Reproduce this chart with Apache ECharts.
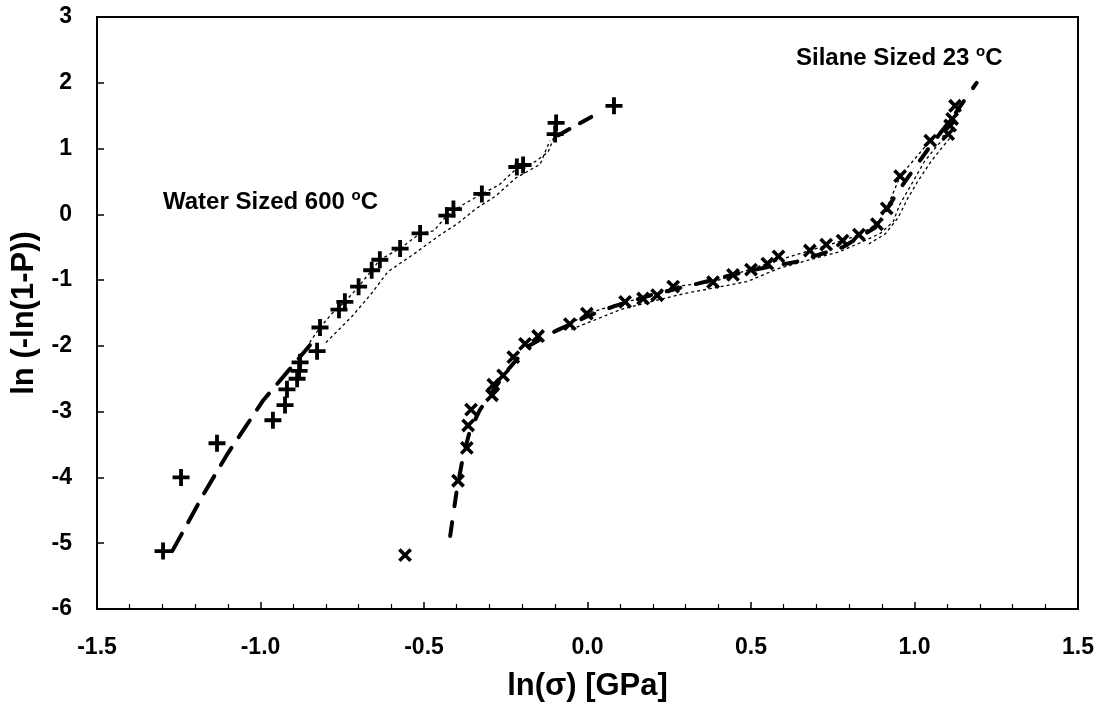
<!DOCTYPE html>
<html>
<head>
<meta charset="utf-8">
<script src="https://cdn.jsdelivr.net/npm/echarts@6/dist/echarts.min.js"></script>
<style>
  html, body { margin: 0; padding: 0; background: #fff; }
  #chart { width: 1106px; height: 708px; }
</style>
</head>
<body>
<div id="chart"></div>
<script>
// Water Sized 600 C  (+ markers)
const waterPoints = [
  [-1.298, -5.12], [-1.243, -4.00], [-1.133, -3.48], [-0.962, -3.13], [-0.925, -2.90],
  [-0.919, -2.66], [-0.888, -2.50], [-0.882, -2.38], [-0.879, -2.25], [-0.827, -2.08],
  [-0.818, -1.72], [-0.760, -1.45], [-0.742, -1.33], [-0.700, -1.10], [-0.660, -0.85],
  [-0.635, -0.69], [-0.573, -0.52], [-0.512, -0.29], [-0.430, -0.02], [-0.410, 0.08],
  [-0.323, 0.31], [-0.216, 0.72], [-0.197, 0.75], [-0.099, 1.22], [-0.096, 1.39],
  [0.081, 1.65]
];
const waterFitLow = [
  [-1.270, -5.12], [-1.222, -4.69], [-1.176, -4.27], [-1.102, -3.65], [-1.047, -3.24],
  [-0.992, -2.83], [-0.910, -2.35], [-0.849, -1.99]
];
const waterFitTop = [[-0.090, 1.20], [0.040, 1.56]];
const waterUpper = [
  [-0.850, -1.95], [-0.818, -1.72], [-0.780, -1.50], [-0.742, -1.33], [-0.700, -1.10],
  [-0.660, -0.85], [-0.635, -0.69], [-0.573, -0.52], [-0.512, -0.29], [-0.470, -0.25],
  [-0.430, -0.02], [-0.380, 0.15], [-0.323, 0.31], [-0.270, 0.45], [-0.216, 0.70],
  [-0.160, 0.80], [-0.120, 0.95], [-0.099, 1.22]
];
const waterLower = [
  [-0.800, -1.95], [-0.720, -1.55], [-0.660, -1.20], [-0.610, -0.87], [-0.530, -0.60],
  [-0.450, -0.31], [-0.400, -0.15], [-0.340, 0.09], [-0.280, 0.28], [-0.220, 0.55],
  [-0.145, 0.76], [-0.115, 1.12]
];

// Silane Sized 23 C  (x markers)
const silanePoints = [
  [-0.558, -5.18], [-0.396, -4.05], [-0.369, -3.55], [-0.365, -3.21], [-0.356, -2.97],
  [-0.292, -2.75], [-0.288, -2.59], [-0.258, -2.45], [-0.227, -2.17], [-0.191, -1.97],
  [-0.151, -1.85], [-0.054, -1.67], [-0.002, -1.51], [0.115, -1.33], [0.170, -1.28],
  [0.213, -1.23], [0.262, -1.10], [0.384, -1.03], [0.445, -0.92], [0.500, -0.84],
  [0.550, -0.75], [0.584, -0.64], [0.680, -0.55], [0.730, -0.46], [0.780, -0.40],
  [0.830, -0.31], [0.885, -0.15], [0.915, 0.09], [0.956, 0.58], [1.048, 1.12],
  [1.103, 1.22], [1.109, 1.35], [1.115, 1.45], [1.124, 1.65]
];
const silaneFit = [
  [-0.420, -4.89], [-0.400, -4.20], [-0.380, -3.67], [-0.360, -3.30], [-0.330, -2.98],
  [-0.250, -2.40], [-0.180, -2.00], [-0.100, -1.78], [0.000, -1.55], [0.080, -1.40],
  [0.200, -1.22], [0.340, -1.05], [0.500, -0.85], [0.640, -0.72], [0.780, -0.50],
  [0.880, -0.20], [0.950, 0.35], [1.050, 1.05], [1.120, 1.50], [1.190, 2.00]
];
const silaneUpper = [
  [-0.054, -1.67], [-0.002, -1.51], [0.115, -1.33], [0.213, -1.23], [0.262, -1.10],
  [0.384, -1.03], [0.445, -0.92], [0.550, -0.75], [0.680, -0.55], [0.780, -0.40],
  [0.830, -0.31], [0.885, -0.15], [0.915, 0.09], [0.956, 0.58], [1.048, 1.12], [1.103, 1.22]
];
const silaneLower = [
  [-0.050, -1.75], [0.100, -1.45], [0.200, -1.32], [0.300, -1.20], [0.376, -1.13],
  [0.490, -1.02], [0.580, -0.83], [0.680, -0.69], [0.770, -0.57], [0.830, -0.44],
  [0.895, -0.29], [0.935, -0.11], [0.955, 0.15], [0.990, 0.45], [1.030, 0.80],
  [1.070, 1.05], [1.100, 1.20]
];
const silaneLower2 = [
  [0.860, -0.45], [0.910, -0.30], [0.950, -0.05], [0.980, 0.25], [1.010, 0.50],
  [1.050, 0.80], [1.090, 1.05], [1.115, 1.20]
];

const xTicks = [-1.5, 1.5, 0.5];   // min, max, interval
const yTicks = [-6, 3, 1];

const FONT = '"Liberation Sans", Arial, sans-serif';
const PLUS = 'path://M0,6.2H16V9.8H0Z M6.2,0H9.8V16H6.2Z';

const thinLine = (data) => ({
  type: 'line', data, symbol: 'none', silent: true,
  lineStyle: { color: '#000', width: 1.3, type: [3, 3] }
});

const labelRich = {
  n: { fontSize: 24, fontWeight: 'bold', fontFamily: FONT, color: '#000', lineHeight: 28 },
  s: { fontSize: 15, fontWeight: 'bold', fontFamily: FONT, color: '#000', lineHeight: 15, verticalAlign: 'top' }
};

const chart = echarts.init(document.getElementById('chart'));
chart.setOption({
  animation: false,
  backgroundColor: '#fff',
  grid: {
    left: 97, right: 28, top: 17, bottom: 99,
    show: true, borderColor: '#000', borderWidth: 2
  },
  xAxis: {
    type: 'value', min: xTicks[0], max: xTicks[1], interval: xTicks[2],
    name: 'ln(σ) [GPa]', nameLocation: 'middle', nameGap: 62,
    nameTextStyle: { fontFamily: FONT, fontWeight: 'bold', fontSize: 31, color: '#000' },
    axisLine: { onZero: false, lineStyle: { color: '#000', width: 2 } },
    axisTick: { inside: true, length: 7, lineStyle: { color: '#000', width: 1.5 } },
    minorTick: { show: true, splitNumber: 5, length: 5, lineStyle: { color: '#000', width: 1.2 } },
    splitLine: { show: false },
    axisLabel: {
      margin: 27, fontFamily: FONT, fontWeight: 'bold', fontSize: 23, color: '#000',
      formatter: (v) => v.toFixed(1)
    }
  },
  yAxis: {
    type: 'value', min: yTicks[0], max: yTicks[1], interval: yTicks[2],
    name: 'ln (-ln(1-P))', nameLocation: 'middle', nameGap: 57,
    nameTextStyle: { fontFamily: FONT, fontWeight: 'bold', fontSize: 31, color: '#000' },
    axisLine: { onZero: false, lineStyle: { color: '#000', width: 2 } },
    axisTick: { inside: true, length: 7, lineStyle: { color: '#000', width: 1.5 } },
    splitLine: { show: false },
    axisLabel: { margin: 25, fontFamily: FONT, fontWeight: 'bold', fontSize: 23, color: '#000' }
  },
  graphic: [
    {
      type: 'text', left: 163, top: 188,
      style: { text: '{n|Water Sized 600 }{s|o}{n|C}', rich: labelRich }
    },
    {
      type: 'text', left: 796, top: 44,
      style: { text: '{n|Silane Sized 23 }{s|o}{n|C}', rich: labelRich }
    }
  ],
  series: [
    thinLine(waterUpper),
    thinLine(waterLower),
    thinLine(silaneUpper),
    thinLine(silaneLower),
    thinLine(silaneLower2),
    {
      type: 'line', data: waterFitLow, symbol: 'none', silent: true,
      lineStyle: { color: '#000', width: 4, type: [20, 13], cap: 'round' }
    },
    {
      type: 'line', data: waterFitTop, symbol: 'none', silent: true,
      lineStyle: { color: '#000', width: 4, type: [13, 12], cap: 'round' }
    },
    {
      type: 'line', data: silaneFit, symbol: 'none', silent: true,
      lineStyle: { color: '#000', width: 4, type: [14, 16], cap: 'round' }
    },
    {
      type: 'scatter', data: waterPoints, symbol: PLUS, symbolSize: 17,
      itemStyle: { color: '#000', opacity: 1 }
    },
    {
      type: 'scatter', data: silanePoints, symbol: PLUS, symbolSize: 16, symbolRotate: 45,
      itemStyle: { color: '#000', opacity: 1 }
    }
  ]
});
</script>
</body>
</html>
